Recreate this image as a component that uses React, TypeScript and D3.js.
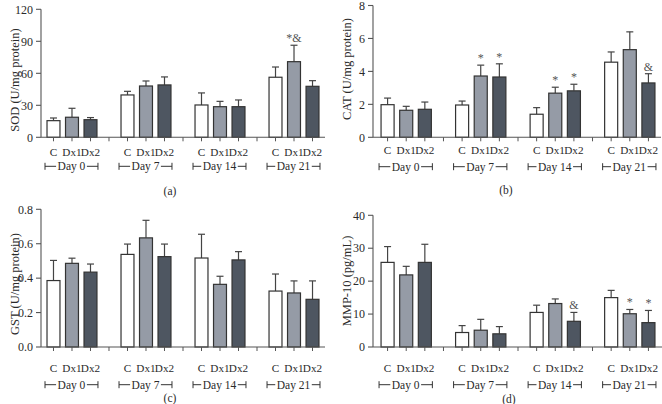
import React, { useEffect, useRef } from 'react';
import * as d3 from 'd3';

const days = ['Day 0', 'Day 7', 'Day 14', 'Day 21'];
const groups = ['C', 'Dx1', 'Dx2'];
const groupColors = ['#ffffff', '#959ba6', '#4e5661'];

// mean / sd per day, per group
const sodMean = [[15.6, 18.8, 16.5], [39.7, 48.1, 49.1], [30.3, 28.7, 28.7], [56.3, 70.9, 47.8]];
const sodSd = [[2.5, 8.4, 2.0], [3.4, 4.7, 7.5], [11.3, 5.0, 6.3], [9.6, 15.4, 5.3]];
const sodMarks = [['', '', ''], ['', '', ''], ['', '', ''], ['', '*&', '']];

const catMean = [[1.98, 1.64, 1.7], [1.96, 3.72, 3.66], [1.4, 2.68, 2.82], [4.56, 5.32, 3.3]];
const catSd = [[0.4, 0.24, 0.44], [0.24, 0.66, 0.8], [0.4, 0.36, 0.4], [0.62, 1.08, 0.56]];
const catMarks = [['', '', ''], ['', '*', '*'], ['', '*', '*'], ['', '', '&']];

const gstMean = [[0.386, 0.486, 0.435], [0.538, 0.634, 0.525], [0.517, 0.364, 0.506], [0.325, 0.314, 0.277]];
const gstSd = [[0.117, 0.03, 0.047], [0.06, 0.102, 0.073], [0.138, 0.047, 0.048], [0.099, 0.07, 0.107]];
const gstMarks = [['', '', ''], ['', '', ''], ['', '', ''], ['', '', '']];

const mmpMean = [[25.7, 21.9, 25.7], [4.4, 5.1, 4.0], [10.5, 13.2, 7.8], [15.0, 10.1, 7.4]];
const mmpSd = [[4.8, 2.6, 5.5], [2.1, 3.3, 2.2], [2.2, 1.4, 2.7], [2.2, 1.3, 3.7]];
const mmpMarks = [['', '', ''], ['', '', ''], ['', '', '&'], ['', '*', '*']];

const panels = [
  { mean: sodMean, sd: sodSd, marks: sodMarks, max: 120, ticks: [0, 30, 60, 90, 120], fmt: d3.format('d'),
    label: 'SOD (U/mg protein)', letter: '(a)',
    axisX: 41, axisEnd: 325, band: [41, 325], yTop: 9.3, y0: 137.3, labY: 14.5, brY: 29, letterX: 170, letterY: 195, ylabX: 15, ylabY: 80 },
  { mean: catMean, sd: catSd, marks: catMarks, max: 8, ticks: [0, 2, 4, 6, 8], fmt: d3.format('d'),
    label: 'CAT (U/mg protein)', letter: '(b)',
    axisX: 373, axisEnd: 661, band: [375, 661], yTop: 5.5, y0: 137.3, labY: 13, brY: 29.4, letterX: 506, letterY: 193.5, ylabX: 347, ylabY: 69 },
  { mean: gstMean, sd: gstSd, marks: gstMarks, max: 0.8, ticks: [0, 0.2, 0.4, 0.6, 0.8], fmt: d3.format('.1f'),
    label: 'GST (U/mg protein)', letter: '(c)',
    axisX: 41, axisEnd: 325, band: [41, 325], yTop: 209.3, y0: 347, labY: 20.7, brY: 37.7, letterX: 170, letterY: 402, ylabX: 15, ylabY: 284 },
  { mean: mmpMean, sd: mmpSd, marks: mmpMarks, max: 40, ticks: [0, 10, 20, 30, 40], fmt: d3.format('d'),
    label: 'MMP-10 (pg/mL)', letter: '(d)',
    axisX: 373, axisEnd: 662, band: [375, 661], yTop: 215.3, y0: 347, labY: 20.7, brY: 37.7, letterX: 509, letterY: 403, ylabX: 347, ylabY: 281 },
];

const FONT = '"Liberation Serif", "Times New Roman", serif';
const AXIS = '#555';
const TEXT = '#2a2a2a';

const App = () => {
  const svgRef = useRef<SVGSVGElement>(null);

  useEffect(() => {
    const svg = d3.select(svgRef.current);
    svg.selectAll('*').remove();

    panels.forEach(p => {
      const g = svg.append('g');
      const y = d3.scaleLinear().domain([0, p.max]).range([p.y0, p.yTop]);
      // 3 bars + 1 gap per day
      const x = d3.scaleBand<number>().domain(d3.range(15)).range(p.band as [number, number])
        .paddingInner(0.3).paddingOuter(0.325);
      const slot = (d: number, k: number) => d * 4 + k;

      // y axis
      g.append('line').attr('x1', p.axisX).attr('x2', p.axisX).attr('y1', p.y0).attr('y2', y(p.max))
        .attr('stroke', AXIS).attr('stroke-width', 1.1);
      p.ticks.forEach(t => {
        g.append('line').attr('x1', p.axisX - 5).attr('x2', p.axisX).attr('y1', y(t)).attr('y2', y(t))
          .attr('stroke', AXIS).attr('stroke-width', 1.1);
        g.append('text').attr('x', p.axisX - 8).attr('y', y(t)).attr('dy', '0.35em')
          .attr('text-anchor', 'end').attr('font-size', 12).attr('fill', TEXT).attr('font-family', FONT)
          .text(p.fmt(t));
      });
      g.append('text').attr('transform', `translate(${p.ylabX},${p.ylabY}) rotate(-90)`)
        .attr('text-anchor', 'middle').attr('dy', '0.35em').attr('font-size', 12.5).attr('fill', TEXT)
        .attr('font-family', FONT).text(p.label);

      // bars
      days.forEach((day, d) => {
        groups.forEach((grp, k) => {
          const xi = x(slot(d, k)) as number;
          const bw = x.bandwidth();
          const m = p.mean[d][k];
          const top = m + p.sd[d][k];
          const cx = xi + bw / 2;
          g.append('line').attr('x1', cx).attr('x2', cx).attr('y1', y(m)).attr('y2', y(top))
            .attr('stroke', '#444').attr('stroke-width', 1.2);
          g.append('line').attr('x1', cx - 3.5).attr('x2', cx + 3.5).attr('y1', y(top)).attr('y2', y(top))
            .attr('stroke', '#444').attr('stroke-width', 1.2);
          g.append('rect').attr('x', xi).attr('y', y(m)).attr('width', bw).attr('height', p.y0 - y(m))
            .attr('fill', groupColors[k]).attr('stroke', '#333').attr('stroke-width', 1.2);
          if (p.marks[d][k]) {
            g.append('text').attr('x', cx).attr('y', y(top) - 3).attr('text-anchor', 'middle')
              .attr('font-size', 12).attr('fill', '#555').attr('font-family', FONT).text(p.marks[d][k]);
          }
          g.append('text').attr('x', cx).attr('y', p.y0 + p.labY).attr('dy', '0.35em')
            .attr('text-anchor', 'middle').attr('font-size', 11.2).attr('fill', TEXT).attr('font-family', FONT)
            .text(grp);
        });

        // day bracket
        const x0 = (x(slot(d, 0)) as number) - 2;
        const x1 = (x(slot(d, 2)) as number) + x.bandwidth() + 1;
        const by = p.y0 + p.brY;
        const t = g.append('text').attr('x', (x0 + x1) / 2).attr('y', by).attr('dy', '0.35em')
          .attr('text-anchor', 'middle').attr('font-size', 11.5).attr('fill', TEXT).attr('font-family', FONT)
          .text(day);
        const tw = (t.node() as SVGTextElement).getComputedTextLength();
        const mid = (x0 + x1) / 2;
        [[x0, mid - tw / 2 - 1.5], [mid + tw / 2 + 1.5, x1]].forEach(([a, b]) => {
          g.append('line').attr('x1', a).attr('x2', b).attr('y1', by).attr('y2', by)
            .attr('stroke', '#333').attr('stroke-width', 1);
        });
        [x0, x1].forEach(v => {
          g.append('line').attr('x1', v).attr('x2', v).attr('y1', by - 3.5).attr('y2', by + 3.5)
            .attr('stroke', '#333').attr('stroke-width', 1);
        });
      });

      // x axis with tick at every slot
      g.append('line').attr('x1', p.axisX).attr('x2', p.axisEnd).attr('y1', p.y0).attr('y2', p.y0)
        .attr('stroke', AXIS).attr('stroke-width', 1.1);
      d3.range(15).forEach(i => {
        const cx = (x(i) as number) + x.bandwidth() / 2;
        g.append('line').attr('x1', cx).attr('x2', cx).attr('y1', p.y0).attr('y2', p.y0 + 4)
          .attr('stroke', AXIS).attr('stroke-width', 1);
      });

      g.append('text').attr('x', p.letterX).attr('y', p.letterY).attr('text-anchor', 'middle')
        .attr('font-size', 11.5).attr('fill', TEXT).attr('font-family', FONT).text(p.letter);
    });
  }, []);

  return (
    <svg ref={svgRef} width={662} height={404}
      style={{ position: 'absolute', left: 0, top: 0, background: '#fff' }} />
  );
};

export default App;
